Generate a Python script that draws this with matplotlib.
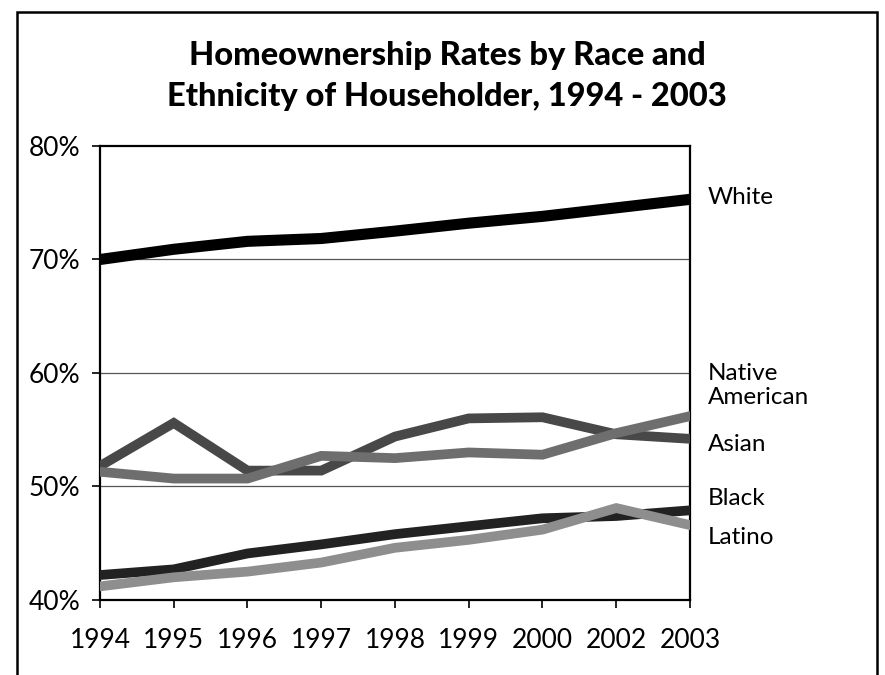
import matplotlib.pyplot as plt
from matplotlib.patches import Rectangle

years = ['1994', '1995', '1996', '1997', '1998', '1999', '2000', '2002', '2003']
white = [70.0, 70.9, 71.6, 71.85, 72.5, 73.2, 73.8, 74.55, 75.3]
native = [51.8, 55.6, 51.4, 51.4, 54.4, 56.0, 56.1, 54.6, 54.2]
asian = [51.3, 50.7, 50.7, 52.7, 52.5, 53.0, 52.8, 54.7, 56.2]
black = [42.2, 42.7, 44.1, 44.9, 45.8, 46.5, 47.2, 47.4, 47.9]
latino = [41.2, 42.0, 42.5, 43.3, 44.6, 45.3, 46.2, 48.1, 46.6]

plt.rcParams['font.family'] = ['Lato', 'DejaVu Sans']

fig = plt.figure(figsize=(8.85, 6.75), dpi=100)
ax = fig.add_axes([100/885, 1-600/675, 590/885, 454/675])

x = list(range(len(years)))
ax.plot(x, native, color='#484848', lw=7, solid_joinstyle='miter', zorder=3)
ax.plot(x, asian, color='#6e6e6e', lw=7, solid_joinstyle='miter', zorder=4)
ax.plot(x, black, color='#222222', lw=7, solid_joinstyle='miter', zorder=3)
ax.plot(x, latino, color='#8e8e8e', lw=7, solid_joinstyle='miter', zorder=4)
ax.plot(x, white, color='black', lw=8, solid_joinstyle='miter', zorder=5)

ax.set_xlim(0, len(years) - 1)
ax.set_ylim(40, 80)
ax.set_xticks(x)
ax.set_xticklabels(years)
ax.set_yticks([40, 50, 60, 70, 80])
ax.set_yticklabels(['40%', '50%', '60%', '70%', '80%'])
for yv in [50, 60, 70]:
    ax.axhline(yv, color='#555555', lw=0.9, zorder=1)

for s in ax.spines.values():
    s.set_linewidth(1.6)
ax.tick_params(axis='x', length=6, width=1.2, pad=14, labelsize=19)
ax.tick_params(axis='y', length=6, width=1.2, pad=8, labelsize=19)

fig.text(0.5 * (17 + 877) / 885, 1 - 76/675,
         'Homeownership Rates by Race and\nEthnicity of Householder, 1994 - 2003',
         fontsize=23.5, fontweight='black', ha='center', va='center',
         linespacing=1.5)

lx = len(years) - 1 + 0.24
labels = [('White', 75.5), ('Native\nAmerican', 58.9), ('Asian', 53.7),
          ('Black', 48.9), ('Latino', 45.5)]
for txt, yv in labels:
    ax.text(lx, yv, txt, fontsize=17.5, va='center', ha='left', clip_on=False,
            linespacing=1.2)

fig.patches.append(Rectangle((17/885, -0.02), 860/885, 1.02 - 12/675,
                             transform=fig.transFigure, fill=False,
                             edgecolor='black', lw=1.8))

fig.savefig('out.png', dpi=100)
